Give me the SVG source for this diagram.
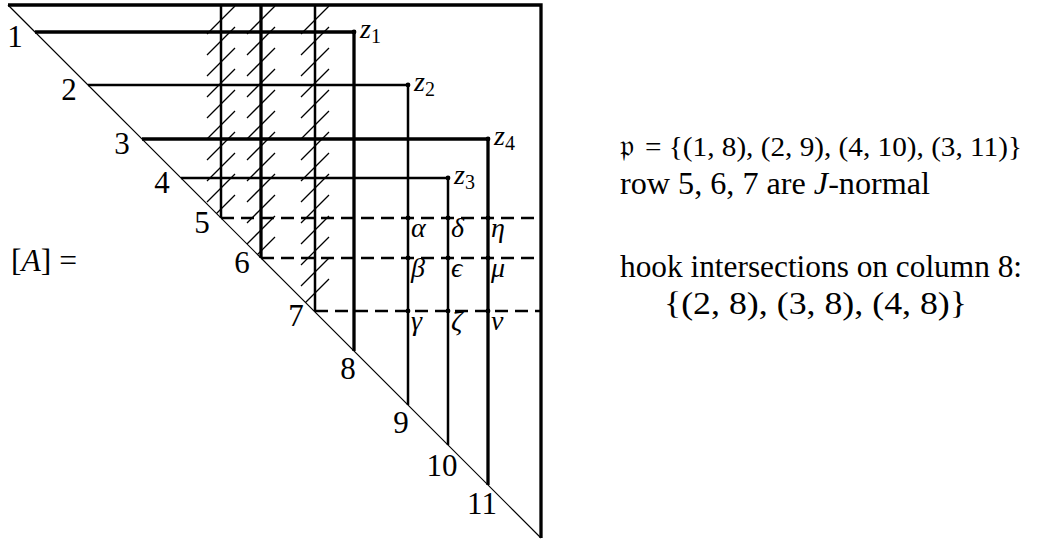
<svg xmlns="http://www.w3.org/2000/svg" width="1037" height="541" viewBox="0 0 1037 541">
<style>
  .ln{fill:none;stroke:#000;stroke-linecap:butt}
  .thin{stroke-width:1.2}
  .n{stroke-width:2.5}
  .k{stroke-width:3.3}
  .d{stroke-width:2.5;stroke-dasharray:13 7}
  .hatch{fill:none;stroke:#000;stroke-width:1.3}
  .t{font-family:"Liberation Serif","Times New Roman",serif;font-size:31px;fill:#000}
  .t28{font-family:"Liberation Serif","Times New Roman",serif;font-size:28px;fill:#000}
  .num{text-anchor:middle}
  .it{font-style:italic}
  .g{font-family:"Liberation Serif",serif;font-style:italic;font-size:28px;fill:#000}
  .z{font-family:"Liberation Serif",serif;font-size:28px;fill:#000}
  .sub{font-size:20px}
  .dot{fill:#000}
</style>
<defs>
  <clipPath id="tri"><polygon points="8,5 541,5 541,538"/></clipPath>
</defs>
<rect width="1037" height="541" fill="#fff"/>

<g id="hatching" clip-path="url(#tri)">
  <path class="hatch" d="M207,34l28,-28 M207,55l28,-28 M207,76l28,-28 M207,97l28,-28 M207,118l28,-28 M207,139l28,-28 M207,160l28,-28 M207,181l28,-28 M207,202l28,-28 M207,223l28,-28"/>
  <path class="hatch" d="M247,34l28,-28 M247,55l28,-28 M247,76l28,-28 M247,97l28,-28 M247,118l28,-28 M247,139l28,-28 M247,160l28,-28 M247,181l28,-28 M247,202l28,-28 M247,223l28,-28 M247,244l28,-28 M247,265l28,-28"/>
  <path class="hatch" d="M301,34l28,-28 M301,55l28,-28 M301,76l28,-28 M301,97l28,-28 M301,118l28,-28 M301,139l28,-28 M301,160l28,-28 M301,181l28,-28 M301,202l28,-28 M301,223l28,-28 M301,244l28,-28 M301,265l28,-28 M301,286l28,-28 M301,307l28,-28"/>
</g>

<g id="frame">
  <path class="ln k" d="M8,5 H541 V538"/>
  <path class="ln thin" d="M8,5 L541,538"/>
</g>

<g id="connectors">
  <path class="ln k" d="M35,32 H354 V351"/>
  <path class="ln n" d="M88,85 H408 V405"/>
  <path class="ln k" d="M142,139 H488 V485"/>
  <path class="ln n" d="M181,178 H448 V445"/>
  <path class="ln n" d="M221,5 V218"/>
  <path class="ln k" d="M261,5 V258"/>
  <path class="ln n" d="M315,5 V311"/>
  <path class="ln d" d="M221,218 H541"/>
  <path class="ln d" d="M261,258 H541"/>
  <path class="ln d" d="M315,311 H541"/>
</g>

<g id="dots">
  <circle class="dot" cx="354" cy="32" r="2.4"/>
  <circle class="dot" cx="408" cy="85" r="2.4"/>
  <circle class="dot" cx="488" cy="139" r="2.4"/>
  <circle class="dot" cx="448" cy="178" r="2.4"/>
  <circle class="dot" cx="408" cy="218" r="2.4"/>
  <circle class="dot" cx="448" cy="218" r="2.4"/>
  <circle class="dot" cx="488" cy="218" r="2.4"/>
  <circle class="dot" cx="408" cy="258" r="2.4"/>
  <circle class="dot" cx="448" cy="258" r="2.4"/>
  <circle class="dot" cx="488" cy="258" r="2.4"/>
  <circle class="dot" cx="408" cy="311" r="2.4"/>
  <circle class="dot" cx="448" cy="311" r="2.4"/>
  <circle class="dot" cx="488" cy="311" r="2.4"/>
</g>

<g id="index-labels">
  <text class="t num" x="15" y="47">1</text>
  <text class="t num" x="69" y="100">2</text>
  <text class="t num" x="122" y="154">3</text>
  <text class="t num" x="162" y="193">4</text>
  <text class="t num" x="202" y="233">5</text>
  <text class="t num" x="242" y="273">6</text>
  <text class="t num" x="296" y="326">7</text>
  <text class="t num" x="348" y="379">8</text>
  <text class="t num" x="401" y="433">9</text>
  <text class="t num" x="442" y="476">10</text>
  <text class="t num" x="482" y="514">11</text>
</g>

<g id="z-labels">
  <text class="z" x="360" y="38"><tspan class="it">z</tspan><tspan class="sub" dy="5">1</tspan></text>
  <text class="z" x="414" y="91"><tspan class="it">z</tspan><tspan class="sub" dy="5">2</tspan></text>
  <text class="z" x="494" y="145"><tspan class="it">z</tspan><tspan class="sub" dy="5">4</tspan></text>
  <text class="z" x="454" y="184"><tspan class="it">z</tspan><tspan class="sub" dy="5">3</tspan></text>
</g>

<g id="greek-labels">
  <text class="g" x="411" y="237">α</text>
  <text class="g" x="451" y="237">δ</text>
  <text class="g" x="491" y="237">η</text>
  <text class="g" x="411" y="277">β</text>
  <text class="g" x="451" y="277">ϵ</text>
  <text class="g" x="491" y="277">μ</text>
  <text class="g" x="411" y="330">γ</text>
  <text class="g" x="451" y="330">ζ</text>
  <text class="g" x="491" y="330">ν</text>
</g>

<g id="matrix-label">
  <text class="t" x="11" y="271" textLength="66" lengthAdjust="spacingAndGlyphs">[<tspan class="it">A</tspan>] =</text>
</g>

<g id="notes">
  <text class="t" x="620" y="156">𝔭</text>
  <text class="t28" x="645" y="156" textLength="377" lengthAdjust="spacingAndGlyphs">= {(1, 8), (2, 9), (4, 10), (3, 11)}</text>
  <text class="t" x="620" y="194" textLength="310" lengthAdjust="spacingAndGlyphs">row 5, 6, 7 are <tspan class="it">J</tspan>-normal</text>
  <text class="t" x="620" y="277" textLength="402" lengthAdjust="spacingAndGlyphs">hook intersections on column 8:</text>
  <text class="t" x="664" y="314" textLength="303" lengthAdjust="spacingAndGlyphs">{(2, 8), (3, 8), (4, 8)}</text>
</g>
</svg>
